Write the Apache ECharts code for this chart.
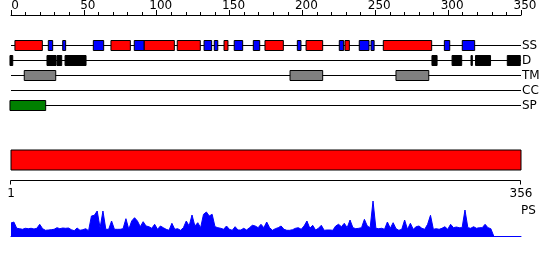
<!DOCTYPE html>
<html>
<head>
<meta charset="utf-8">
<script src="https://cdn.jsdelivr.net/npm/echarts@6/dist/echarts.min.js"></script>
<style>html,body{margin:0;padding:0;background:#fff}#c{width:550px;height:260px}</style>
</head>
<body>
<div id="c"></div>
<script>
// ---- data ----
const tracks = ['SS', 'D', 'TM', 'CC', 'SP'];
const rulerTicks = [0, 50, 100, 150, 200, 250, 300, 350];
const ssHelix = [[2.7, 21.5], [68.6, 81.9], [91.3, 112.1], [114.1, 129.9], [146.2, 148.9], [174.3, 186.9], [202.5, 213.9], [229.2, 232.2], [255.5, 288.7]];
const ssStrand = [[25.6, 28.6], [35.5, 37.5], [56.5, 63.6], [84.6, 91.3], [132.5, 137.7], [139.5, 141.9], [153.2, 159.0], [166.3, 170.7], [196.5, 199.0], [225.3, 228.3], [239.0, 245.7], [247.1, 249.2], [297.4, 301.1], [309.7, 318.2]];
const disorder = [[-0.7, 1.2], [24.7, 30.9], [31.6, 34.8], [37.1, 51.5], [288.9, 292.4], [302.7, 309.3], [315.7, 316.6], [318.8, 329.1], [340.6, 349.5]];
const transmembrane = [[9.1, 30.7], [191.5, 213.9], [264.2, 286.7]];
const coiledCoil = [];
const signalPeptide = [[-0.7, 23.8]];
const proteinRange = [[1, 356]];
const lengthFirst = 1, lengthLast = 356;
const psStart = 1, psStep = 2;
const psValues = [
  13, 14, 7.7, 7.3, 6.7, 7.7, 7.3, 7.7, 7, 7.7, 11.7, 7.3, 5.7, 6, 6.3, 6.7, 8.3, 7.3, 8, 7.7,
  8, 6.3, 5.3, 8, 5.7, 6.3, 7.3, 5.3, 20, 20.7, 25, 8, 25, 6.7, 6.7, 15, 6.7, 6.7, 6.7, 7.3,
  17.3, 6.7, 15, 18.3, 15, 9.3, 14.3, 10, 9.3, 7.7, 11.7, 6.7, 10, 8.3, 6.7, 5.7, 12.7, 6.7, 7.3, 5.7,
  8.3, 15, 10, 21, 10, 13.3, 8.3, 21.7, 24, 20, 21.7, 9.3, 8.3, 7.7, 6.7, 10, 6.7, 5.7, 9.3, 6,
  6, 7.7, 6, 8.3, 10.7, 10, 8.3, 11.7, 8.3, 14, 8.3, 5.7, 7.3, 8.3, 10, 6.7, 5.7, 5.7, 6.3, 7.7,
  8.3, 6.7, 10, 15, 7.7, 10.7, 6, 7.7, 10.7, 5.7, 6, 6, 5.7, 10, 11.7, 9.3, 12.7, 8.3, 16, 8.3,
  7.3, 7.7, 8.3, 16.7, 10, 8.3, 35, 7.7, 7.3, 7.7, 6.7, 14, 7.7, 13.3, 7.3, 5.7, 6.7, 16, 6.7, 12.7,
  6.7, 9.3, 10, 7.7, 6.7, 11.7, 20.7, 6.7, 7.3, 6.7, 7.7, 9.3, 6.7, 11.7, 8.3, 9, 8.3, 8.3, 26, 8.3,
  7.7, 9.3, 7.7, 8.3, 8.3, 11.7, 8.3, 7.3, 0
];

// ---- build ----
const FONT = 'DejaVu Sans';
const PS_MAX = 56;
function rows(list, track) { return list.map(d => [d[0], d[1], tracks.indexOf(track)]); }
function boxSeries(list, track, color) {
  return {
    type: 'custom', xAxisIndex: 0, yAxisIndex: 0, silent: true,
    encode: { x: [0, 1], y: 2 },
    data: rows(list, track),
    renderItem: function (params, api) {
      const a = api.coord([api.value(0), api.value(2)]);
      const b = api.coord([api.value(1), api.value(2)]);
      const h = api.size([0, 1])[1] * 2 / 3;
      return { type: 'rect', shape: { x: a[0], y: a[1] - h / 2, width: b[0] - a[0], height: h },
               style: { fill: color, stroke: '#000', lineWidth: 1 } };
    }
  };
}
const trackLines = {
  type: 'custom', xAxisIndex: 0, yAxisIndex: 0, silent: true,
  encode: { x: [0, 1], y: 2 },
  data: tracks.map((t, i) => [0, 350, i]),
  renderItem: function (params, api) {
    const a = api.coord([api.value(0), api.value(2)]);
    const b = api.coord([api.value(1), api.value(2)]);
    return { type: 'line', shape: { x1: a[0], y1: a[1], x2: b[0], y2: b[1] }, style: { stroke: '#000', lineWidth: 1 } };
  }
};
const rangeBar = {
  type: 'custom', xAxisIndex: 1, yAxisIndex: 1, silent: true,
  encode: { x: [0, 1] },
  data: proteinRange,
  renderItem: function (params, api) {
    const a = api.coord([api.value(0), 0]);
    const b = api.coord([api.value(1), 1]);
    return { type: 'rect', shape: { x: a[0], y: b[1], width: b[0] - a[0], height: a[1] - b[1] },
             style: { fill: '#ff0000', stroke: '#000', lineWidth: 1 } };
  }
};
// length ruler line + end ticks, positioned through the profile axis scale
const lengthRuler = {
  type: 'custom', xAxisIndex: 2, yAxisIndex: 2, silent: true, clip: false,
  encode: { x: [0, 1] },
  data: proteinRange,
  renderItem: function (params, api) {
    const a = api.coord([api.value(0), PS_MAX]);
    const b = api.coord([api.value(1), PS_MAX]);
    const y = Math.round(a[1]) + 0.5;
    const x1 = Math.round(a[0]) - 0.5, x2 = Math.round(b[0]) - 0.5;
    const st = { stroke: '#000', lineWidth: 1 };
    return { type: 'group', children: [
      { type: 'line', shape: { x1: x1, y1: y, x2: x2, y2: y }, style: st },
      { type: 'line', shape: { x1: x1, y1: y, x2: x1, y2: y + 4 }, style: st },
      { type: 'line', shape: { x1: x2, y1: y, x2: x2, y2: y + 4 }, style: st }
    ] };
  }
};
const psData = psValues.map((v, i) => [psStart + i * psStep, v]);

const option = {
  animation: false,
  backgroundColor: '#fff',
  textStyle: { fontFamily: FONT },
  title: { text: 'PS', left: 521, top: 205, padding: 0, textStyle: { fontSize: 12, fontWeight: 'normal', color: '#000', fontFamily: FONT } },
  grid: [
    { left: 11, right: 29, top: 38, height: 75 },
    { left: 11, right: 29, top: 150, height: 20 },
    { left: 11, right: 29, top: 180, height: 56 }
  ],
  xAxis: [
    { gridIndex: 0, type: 'value', position: 'top', offset: 23, min: 0, max: 350, interval: 50,
      axisLine: { show: true, onZero: false, lineStyle: { color: '#000', width: 1 } },
      axisTick: { show: true, length: 5, lineStyle: { color: '#000' } },
      minorTick: { show: true, splitNumber: 5, length: 3, lineStyle: { color: '#000' } },
      splitLine: { show: false },
      axisLabel: { show: true, margin: 3, color: '#000', fontSize: 12, fontFamily: FONT, padding: [0, 0, 0, 8],
                   showMinLabel: true, showMaxLabel: true,
                   formatter: v => rulerTicks.indexOf(v) >= 0 ? String(v) : '' } },
    { gridIndex: 1, type: 'value', min: lengthFirst, max: lengthLast, show: false },
    { gridIndex: 2, type: 'value', show: true, position: 'top',
      min: lengthFirst, max: lengthLast, interval: lengthLast - lengthFirst,
      axisLine: { show: false, onZero: false },
      axisTick: { show: false },
      minorTick: { show: false },
      splitLine: { show: false },
      axisLabel: { show: true, inside: true, margin: 8, color: '#000', fontSize: 12, fontFamily: FONT, showMinLabel: true, showMaxLabel: true } },
    { gridIndex: 2, type: 'value', show: true, position: 'bottom', min: lengthFirst, max: lengthLast,
      axisLine: { show: true, onZero: false, lineStyle: { color: '#0000ff', width: 1 } },
      axisTick: { show: false }, axisLabel: { show: false }, splitLine: { show: false } }
  ],
  yAxis: [
    { gridIndex: 0, type: 'category', data: tracks, inverse: true, position: 'right',
      axisLine: { show: false }, axisTick: { show: false }, splitLine: { show: false },
      axisLabel: { interval: 0, margin: 1, color: '#000', fontSize: 12, fontFamily: FONT } },
    { gridIndex: 1, type: 'value', min: 0, max: 1, show: false },
    { gridIndex: 2, type: 'value', min: 0, max: PS_MAX, show: false }
  ],
  series: [
    trackLines,
    boxSeries(ssHelix, 'SS', '#ff0000'),
    boxSeries(ssStrand, 'SS', '#0000ff'),
    boxSeries(disorder, 'D', '#000000'),
    boxSeries(transmembrane, 'TM', '#808080'),
    boxSeries(coiledCoil, 'CC', '#ffff00'),
    boxSeries(signalPeptide, 'SP', '#008000'),
    rangeBar,
    lengthRuler,
    { type: 'line', xAxisIndex: 2, yAxisIndex: 2, data: psData, showSymbol: false, silent: true,
      lineStyle: { color: '#0000ff', width: 1 }, itemStyle: { color: '#0000ff' },
      areaStyle: { color: '#0000ff', opacity: 1 } }
  ]
};
const chart = echarts.init(document.getElementById('c'), null, { renderer: 'canvas' });
chart.setOption(option);
</script>
</body>
</html>
